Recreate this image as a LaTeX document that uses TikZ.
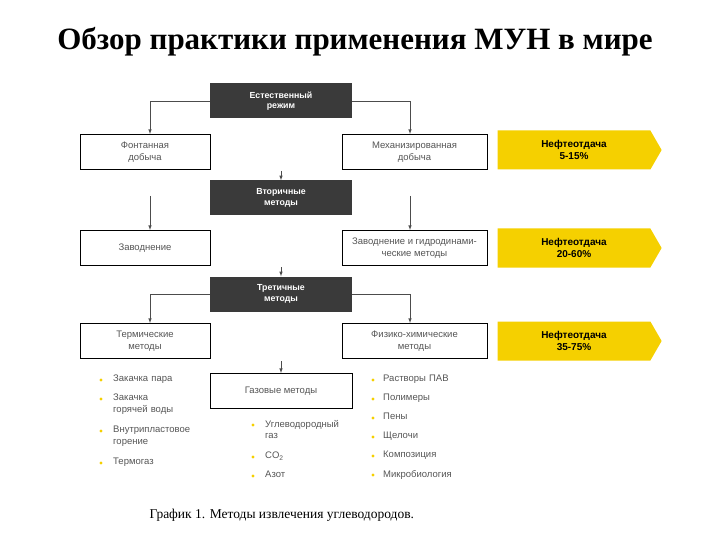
\documentclass[tikz,border=0pt]{standalone}
\usepackage{fontspec}
\setmainfont{Liberation Serif}
\newfontfamily\sans{Liberation Sans}
\usetikzlibrary{positioning,arrows,shapes.symbols}
\tikzset{>=latex}
\definecolor{dark}{HTML}{3A3A3A}
\definecolor{ylw}{HTML}{F5D000}
\definecolor{txt}{HTML}{555555}
\tikzset{
  stage/.style={draw=none,fill=dark,text=white,font=\sans\fontsize{8.8}{10.5}\selectfont\bfseries,
    minimum width=142pt,minimum height=35pt,align=center,inner sep=1pt},
  box/.style={draw=black,line width=1pt,fill=white,text=txt,font=\sans\fontsize{9.5}{11.5}\selectfont,
    minimum width=130pt,minimum height=35pt,align=center,inner sep=1pt},
  rbox/.style={box,minimum width=145pt},
  yield/.style={signal,signal to=east,fill=ylw,draw=none,font=\sans\fontsize{10}{12}\selectfont\bfseries,
    minimum width=164pt,minimum height=39pt,align=center,signal pointer angle=120,inner sep=1pt},
  link/.style={->,black!70,line width=0.6pt},
  item/.style={anchor=north west,text=txt,font=\sans\fontsize{9.5}{11.5}\selectfont,align=left,inner sep=0pt,
    text width=90pt},
  dot/.style={circle,fill=ylw,inner sep=1.1pt}
}
\begin{document}
\begin{tikzpicture}[x=1pt,y=-1pt]
  \useasboundingbox (0,0) rectangle (720,540);
  \node[font=\fontsize{31}{36}\selectfont\bfseries] (title) at (355,42) {Обзор практики применения МУН в мире};
  % stages
  \node[stage] (nat) at (281,101) {Естественный\\режим};
  \node[stage] (sec) at (281,198) {Вторичные\\методы};
  \node[stage] (ter) at (281,294) {Третичные\\методы};
  % row 1
  \node[box] (flow) at (145,152) {Фонтанная\\добыча};
  \node[rbox] (mech) at (414.5,152) {Механизированная\\добыча};
  \node[yield] (y1) at (574,150) {Нефтеотдача\\5-15\%};
  % row 2
  \node[box] (flood) at (145,248) {Заводнение};
  \node[rbox] (hydro) at (414.5,248) {Заводнение и гидродинами-\\ческие методы};
  \node[yield] (y2) at (574,248) {Нефтеотдача\\20-60\%};
  % row 3
  \node[box] (therm) at (145,341) {Термические\\методы};
  \node[rbox] (phys) at (414.5,341) {Физико-химические\\методы};
  \node[yield] (y3) at (574,341) {Нефтеотдача\\35-75\%};
  \node[box,minimum width=142pt] (gas) at (281,391) {Газовые методы};
  % connectors
  \draw[link] (nat.west) -| (flow.north -| 150,0);
  \draw[link] (nat.east) -| (mech.north -| 410,0);
  \draw[link] (ter.west) -| (therm.north -| 150,0);
  \draw[link] (ter.east) -| (phys.north -| 410,0);
  \coordinate (s1) at (150,196);
  \coordinate (s2) at (410,196);
  \draw[link] (s1) -- (flood.north -| s1);
  \draw[link] (s2) -- (hydro.north -| s2);
  \coordinate (a1) at (281,171);
  \coordinate (a2) at (281,267);
  \coordinate (a3) at (281,361);
  \draw[link] (a1) -- (sec.north);
  \draw[link] (a2) -- (ter.north);
  \draw[link] (a3) -- (gas.north);
  % lists
  \foreach \t/\y in {Закачка пара/375,Закачка\\горячей воды/394,Внутрипластовое\\горение/426,Термогаз/458}{
    \node[dot] at (101,\y+5) {};
    \node[item] at (113,\y) {\t};}
  \foreach \t/\y in {Углеводородный\\газ/420,CO\textsubscript{2}/452,Азот/471}{
    \node[dot] at (253,\y+5) {};
    \node[item] at (265,\y) {\t};}
  \foreach \t/\y in {Растворы ПАВ/375,Полимеры/394,Пены/413,Щелочи/432,Композиция/451,Микробиология/470}{
    \node[dot] at (373,\y+5) {};
    \node[item] at (383,\y) {\t};}
  \node[anchor=west,font=\fontsize{13.5}{16}\selectfont] (cap) at (146,515) {График 1. Методы извлечения углеводородов.};
\end{tikzpicture}
\end{document}
